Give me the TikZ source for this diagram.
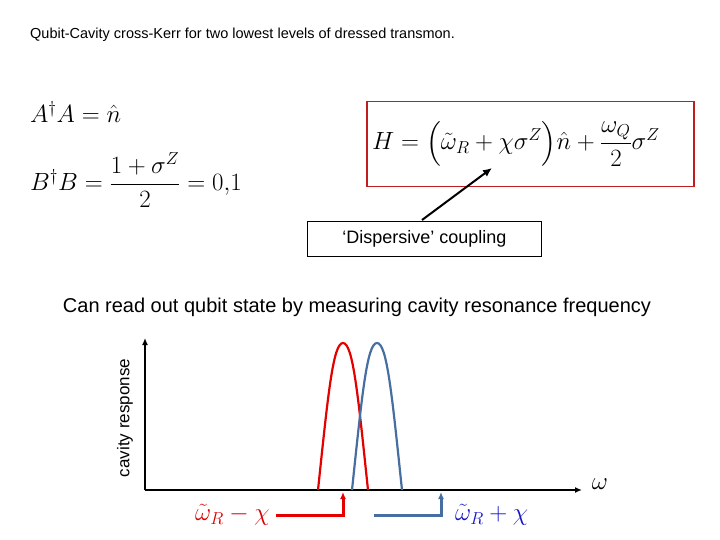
\documentclass[tikz,border=0pt]{standalone}
\usepackage{amsmath}
\usepackage{fontspec}
\setmainfont{Liberation Sans}
\usetikzlibrary{arrows.meta}
\definecolor{boxred}{RGB}{192,30,30}
\definecolor{steel}{RGB}{70,110,160}
\definecolor{lblblue}{RGB}{20,20,200}
\begin{document}
\begin{tikzpicture}[x=1pt,y=-1pt,
  lbl/.style={inner sep=0pt,anchor=west},
  peak/.style={line width=2.2pt},
  ax/.style={line width=2pt,-{Latex[length=7pt,width=6pt]}}]
\useasboundingbox (0,0) rectangle (720,540);
\node[lbl] (title) at (30,35) {\fontsize{14.5}{16}\selectfont Qubit-Cavity cross-Kerr for two lowest levels of dressed transmon.};
\node[lbl] (e1) at (30,112) {\fontsize{24}{28}\selectfont $A^{\dagger}A=\hat n$};
\node[lbl] (e2) at (30,180) {\fontsize{24}{28}\selectfont $B^{\dagger}B=\dfrac{1+\sigma^{Z}}{2}=0{,}1$};
\node[draw=boxred,line width=1.5pt,minimum width=327,minimum height=85,anchor=north west] (hbox) at (366,101) {};
\node[lbl] (h) at (372,144) {\fontsize{24}{28}\selectfont $H=\Bigl(\tilde\omega_R+\chi\sigma^{Z}\Bigr)\hat n+\dfrac{\omega_Q}{2}\sigma^{Z}$};
\coordinate (tip) at (492,168);
\node[draw,line width=0.8pt,minimum width=234,minimum height=35,anchor=north west,font=\fontsize{18}{20}\selectfont] (disp) at (307,221) {‘Dispersive’ coupling};
\draw[line width=2pt,-{Latex[length=9pt,width=8pt]}] (422,220) -- (tip);
\node[anchor=center,font=\fontsize{20}{24}\selectfont] (read) at (357,307) {Can read out qubit state by measuring cavity resonance frequency};
\coordinate (o) at (145,490);
\coordinate (ytop) at (145,338);
\coordinate (xend) at (582,490);
\draw[ax] (o) -- (ytop);
\draw[ax] (o) -- (xend);
\node[rotate=90,font=\fontsize{17}{20}\selectfont] (cr) at (125,418) {cavity response};
\node[font=\fontsize{24}{28}\selectfont] (w) at (600,484) {$\omega$};
\draw[peak,red!90!black] (318,490) .. controls (328,395) and (333,343) .. (343,343) .. controls (353,343) and (358,395) .. (368,490);
\draw[peak,steel] (352,490) .. controls (362,395) and (367,343) .. (377,343) .. controls (387,343) and (392,395) .. (402,490);
\node[lbl,text=red!85!black,font=\fontsize{24}{28}\selectfont] (lr) at (195,515) {$\tilde\omega_R-\chi$};
\node[lbl,text=lblblue,font=\fontsize{24}{28}\selectfont] (lb) at (455,515) {$\tilde\omega_R+\chi$};
\coordinate (ra) at (343,492);
\coordinate (ba) at (441,492);
\draw[line width=3pt,red!90!black,-{Latex[length=7pt,width=6pt]}] (276,515) -| (ra);
\draw[line width=3pt,steel,-{Latex[length=7pt,width=6pt]}] (374,515) -| (ba);
\end{tikzpicture}
\end{document}
